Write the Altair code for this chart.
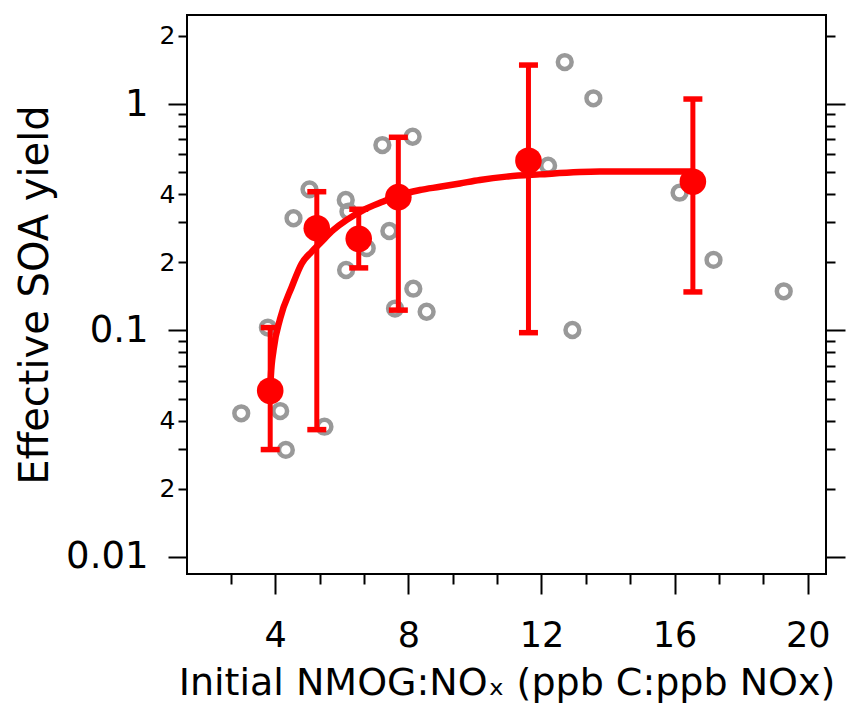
import altair as alt
import pandas as pd

# ---- data ----
obs_x = [2.98, 3.78, 4.15, 4.32, 4.55, 5.03, 5.48, 6.12, 6.2, 6.13, 6.75, 7.22, 7.43, 7.60,
         8.13, 8.15, 8.55, 12.2, 12.7, 12.93, 13.56, 16.15, 17.17, 19.28]
obs_y = [0.0431, 0.103, 0.0441, 0.0297, 0.313, 0.420, 0.0376, 0.377, 0.335, 0.185, 0.231, 0.659,
         0.275, 0.125, 0.717, 0.153, 0.121, 0.534, 1.532, 0.1005, 1.06, 0.406, 0.205, 0.149]

mean_x = [3.85, 5.25, 6.51, 7.70, 11.61, 16.55]
mean_y = [0.0542, 0.283, 0.254, 0.388, 0.562, 0.454]
err_lo = [0.0298, 0.0365, 0.189, 0.123, 0.0978, 0.148]
err_hi = [0.103, 0.410, 0.343, 0.713, 1.486, 1.052]

fit_x = [3.85, 3.87, 3.95, 4.15, 4.5, 4.8, 5.1, 5.35, 5.75, 6.15, 6.65, 7.25, 7.75, 8.35,
         8.95, 9.55, 10.15, 10.95, 11.95, 13.75, 16.55]
fit_y = [0.054, 0.063, 0.082, 0.113, 0.156, 0.198, 0.223, 0.243, 0.278, 0.308, 0.340, 0.371,
         0.397, 0.417, 0.431, 0.446, 0.462, 0.478, 0.489, 0.503, 0.503]

x_major = [4, 8, 12, 16, 20]
x_minor = [2.667, 5.333, 6.667, 9.333, 10.667, 13.333, 14.667, 17.333, 18.667]
y_ticks = [2, 1, 0.9, 0.8, 0.7, 0.6, 0.5, 0.4, 0.3, 0.2,
           0.1, 0.09, 0.08, 0.07, 0.06, 0.05, 0.04, 0.03, 0.02, 0.01]
y_labeled = [2, 1, 0.4, 0.2, 0.1, 0.04, 0.02, 0.01]
y_label_text = ["2", "1", "4", "2", "0.1", "4", "2", "0.01"]
y_decades = [1, 0.1, 0.01]

FONT = "DejaVu Sans"

obs = pd.DataFrame({"x": obs_x, "y": obs_y})
means = pd.DataFrame({"x": mean_x, "y": mean_y, "lo": err_lo, "hi": err_hi})
fit = pd.DataFrame({"x": fit_x, "y": fit_y})
caps = pd.DataFrame({"x": mean_x + mean_x, "y": err_lo + err_hi})

x_scale = alt.Scale(domain=[1.35, 20.55], nice=False, zero=False)
y_scale = alt.Scale(type="log", domain=[0.00841, 2.472], nice=False)

# label expression for y
expr = "''"
for v, t in zip(reversed(y_labeled), reversed(y_label_text)):
    expr = f"datum.value == {v} ? '{t}' : ({expr})"
dec_test = " || ".join(f"datum.value == {v}" for v in y_decades)
xmaj_test = "indexof([" + ",".join(str(v) for v in x_major) + "], datum.value) >= 0"

x_axis = alt.Axis(
    values=x_minor + x_major,
    labelExpr=f"{xmaj_test} ? datum.value + '' : ''",
    labelFontSize=35, labelPadding=24, labelFlush=False, labelOverlap=False,
    tickSize={"condition": {"test": xmaj_test, "value": 20}, "value": 10},
    title="Initial NMOG:NOₓ (ppb C:ppb NOx)", titleFontSize=38,
    titleBaseline="alphabetic", titleY=120, titleX=319.5, titleAlign="center",
)

y_axis_left = alt.Axis(
    values=y_ticks, labelExpr=expr, labelOverlap=False, labelFlush=False,
    labelFontSize={"condition": {"test": dec_test, "value": 37}, "value": 25},
    labelPadding={"condition": {"test": dec_test, "value": 20}, "value": 3},
    tickSize={"condition": {"test": dec_test, "value": 19}, "value": 9},
    labelBaseline="middle",
    title="Effective SOA yield", titleFontSize=40, titleAngle=270,
    titleX=-140, titleY=279.5, titleAlign="center", titleBaseline="alphabetic",
)

y_axis_right = alt.Axis(
    orient="right", values=y_ticks, labels=False, title=None,
    tickSize={"condition": {"test": dec_test, "value": 19}, "value": 9},
)

X = alt.X("x:Q", scale=x_scale, axis=x_axis)

pts = alt.Chart(obs).mark_point(
    shape="circle", filled=False, size=190, strokeWidth=4.5, color="#999999", opacity=1
).encode(x=X, y=alt.Y("y:Q", scale=y_scale, axis=y_axis_left))

line = alt.Chart(fit).mark_line(color="#ff0000", strokeWidth=6.5, interpolate="monotone").encode(
    x=X, y=alt.Y("y:Q", scale=y_scale, axis=None))

bars = alt.Chart(means).mark_rule(color="#ff0000", strokeWidth=5).encode(
    x=X, y=alt.Y("lo:Q", scale=y_scale, axis=None), y2="hi:Q")

cap = alt.Chart(caps).mark_tick(
    orient="horizontal", size=19, thickness=5.5, color="#ff0000", opacity=1
).encode(x=X, y=alt.Y("y:Q", scale=y_scale, axis=None))

dots = alt.Chart(means).mark_circle(size=707, color="#ff0000", opacity=1).encode(
    x=X, y=alt.Y("y:Q", scale=y_scale, axis=None))

right = alt.Chart(obs).mark_point(opacity=0).encode(
    x=X, y=alt.Y("y:Q", scale=y_scale, axis=y_axis_right))

chart = (
    alt.layer(pts, line, bars, cap, dots, right)
    .resolve_axis(y="independent")
    .properties(
        width=639, height=559,
        autosize=alt.AutoSizeParams(type="none"),
        padding={"left": 187, "top": 15, "right": 22, "bottom": 129},
    )
    .configure_view(stroke="black", strokeWidth=2)
    .configure_axis(
        domain=False, grid=False, tickColor="black", tickWidth=2,
        labelColor="black", labelFont=FONT, titleFont=FONT,
        titleFontWeight="normal", titleColor="black",
    )
)

chart.save("out.html", embed_options={"renderer": "svg", "actions": False})
